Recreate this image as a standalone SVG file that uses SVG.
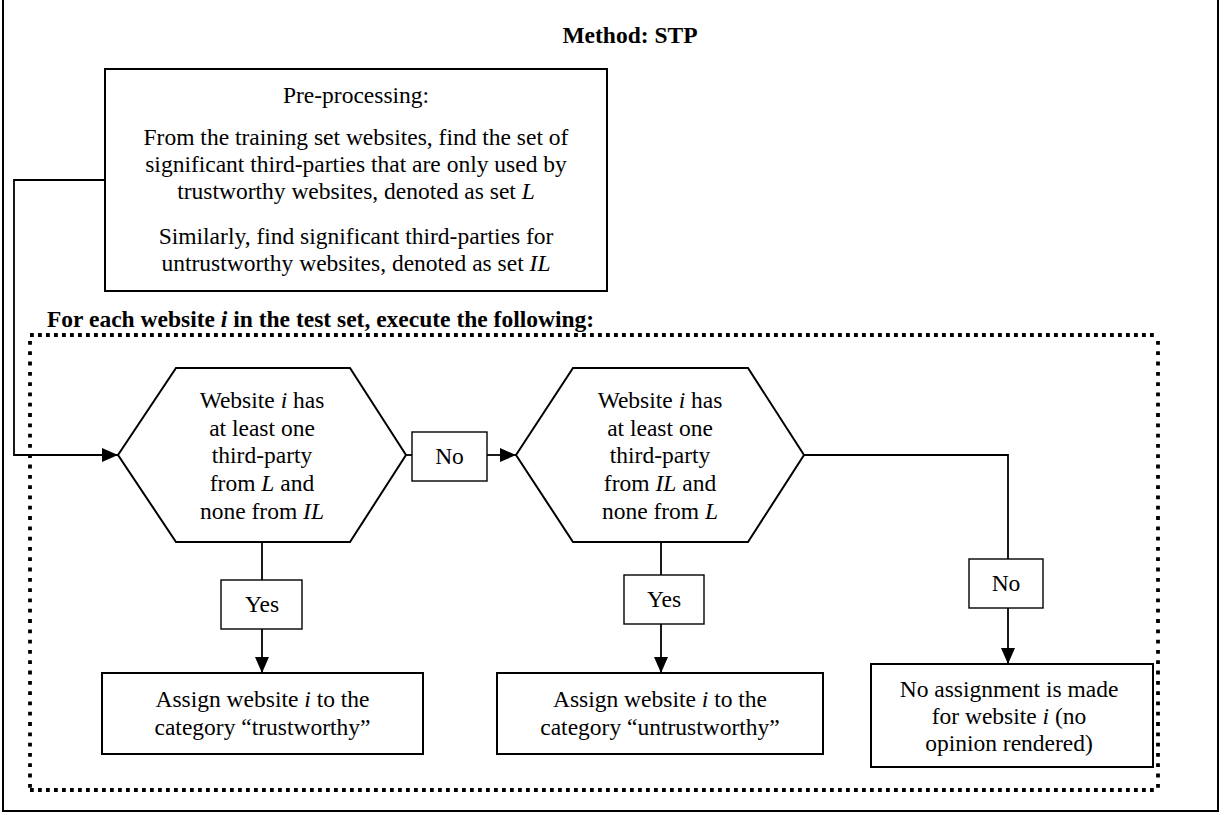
<svg xmlns="http://www.w3.org/2000/svg" width="1225" height="815" viewBox="0 0 1225 815">
<defs>
<style>
.t{font-family:"Liberation Serif","Times New Roman",serif;font-size:23.5px;fill:#000;text-anchor:middle}
.b{font-weight:bold}
.i{font-style:italic}
.box{fill:#fff;stroke:#000;stroke-width:2}
.lbl{fill:#fff;stroke:#000;stroke-width:1.4}
.ln{fill:none;stroke:#000;stroke-width:1.8}
.dot{fill:none;stroke:#000;stroke-width:3.8}
</style>
<marker id="ah" viewBox="0 0 16 14" refX="16" refY="7" markerWidth="16" markerHeight="14" markerUnits="userSpaceOnUse" orient="auto">
<path d="M0,0 L16,7 L0,14 Z" fill="#000"/>
</marker>
</defs>
<rect width="1225" height="815" fill="#fff"/>
<g id="frame">
<rect x="3" y="-3" width="1215" height="814" fill="none" stroke="#000" stroke-width="2"/>
<text class="t b" x="630" y="43">Method: STP</text>
</g>
<g id="loop">
<line class="dot" x1="30" y1="335" x2="1158" y2="335" stroke-dasharray="3.8 4.2"/>
<line class="dot" x1="30" y1="790" x2="1158" y2="790" stroke-dasharray="3.8 4.2"/>
<line class="dot" x1="30" y1="341" x2="30" y2="790" stroke-dasharray="3.8 6.5"/>
<line class="dot" x1="1158" y1="341" x2="1158" y2="790" stroke-dasharray="3.8 6.5"/>
<text class="t b" style="text-anchor:start" x="47" y="327">For each website <tspan class="i">i</tspan> in the test set, execute the following:</text>
</g>
<g id="connectors">
<path class="ln" d="M105,180 H14 V455 H118" marker-end="url(#ah)"/>
<path class="ln" d="M406,455 H412"/>
<path class="ln" d="M487,455 H516" marker-end="url(#ah)"/>
<path class="ln" d="M262,542 V580"/>
<path class="ln" d="M262,629 V673" marker-end="url(#ah)"/>
<path class="ln" d="M661,542 V575"/>
<path class="ln" d="M661,624 V673" marker-end="url(#ah)"/>
<path class="ln" d="M804,455 H1008 V559"/>
<path class="ln" d="M1008,608 V664" marker-end="url(#ah)"/>
</g>
<g id="preprocessing">
<rect class="box" x="105" y="69" width="502" height="222"/>
<text class="t" x="356" y="103">Pre-processing:</text>
<text class="t" x="356" y="145">From the training set websites, find the set of</text>
<text class="t" x="356" y="172">significant third-parties that are only used by</text>
<text class="t" x="356" y="199">trustworthy websites, denoted as set <tspan class="i">L</tspan></text>
<text class="t" x="356" y="244">Similarly, find significant third-parties for</text>
<text class="t" x="356" y="271">untrustworthy websites, denoted as set <tspan class="i">IL</tspan></text>
</g>
<g id="decision1">
<polygon class="box" points="118,455 176,368 350,368 406,455 350,542 176,542"/>
<text class="t" x="262" y="408">Website <tspan class="i">i</tspan> has</text>
<text class="t" x="262" y="436">at least one</text>
<text class="t" x="262" y="463">third-party</text>
<text class="t" x="262" y="491">from <tspan class="i">L</tspan> and</text>
<text class="t" x="262" y="519">none from <tspan class="i">IL</tspan></text>
</g>
<g id="decision2">
<polygon class="box" points="516,455 573,368 748,368 804,455 748,542 573,542"/>
<text class="t" x="660" y="408">Website <tspan class="i">i</tspan> has</text>
<text class="t" x="660" y="436">at least one</text>
<text class="t" x="660" y="463">third-party</text>
<text class="t" x="660" y="491">from <tspan class="i">IL</tspan> and</text>
<text class="t" x="660" y="519">none from <tspan class="i">L</tspan></text>
</g>
<g id="no1">
<rect class="lbl" x="412" y="432" width="75" height="49"/>
<text class="t" x="449.5" y="464">No</text>
</g>
<g id="yes1">
<rect class="lbl" x="221" y="580" width="81" height="49"/>
<text class="t" x="262" y="612">Yes</text>
</g>
<g id="yes2">
<rect class="lbl" x="624" y="575" width="80" height="49"/>
<text class="t" x="664" y="607">Yes</text>
</g>
<g id="no2">
<rect class="lbl" x="969" y="559" width="74" height="49"/>
<text class="t" x="1006" y="591">No</text>
</g>
<g id="trustworthy">
<rect class="box" x="102" y="673" width="321" height="81"/>
<text class="t" x="262.5" y="707">Assign website <tspan class="i">i</tspan> to the</text>
<text class="t" x="262.5" y="735">category “trustworthy”</text>
</g>
<g id="untrustworthy">
<rect class="box" x="497" y="673" width="326" height="81"/>
<text class="t" x="660" y="707">Assign website <tspan class="i">i</tspan> to the</text>
<text class="t" x="660" y="735">category “untrustworthy”</text>
</g>
<g id="noassignment">
<rect class="box" x="871" y="664" width="282" height="103"/>
<text class="t" x="1009" y="697">No assignment is made</text>
<text class="t" x="1009" y="724">for website <tspan class="i">i</tspan> (no</text>
<text class="t" x="1009" y="751">opinion rendered)</text>
</g>
</svg>
